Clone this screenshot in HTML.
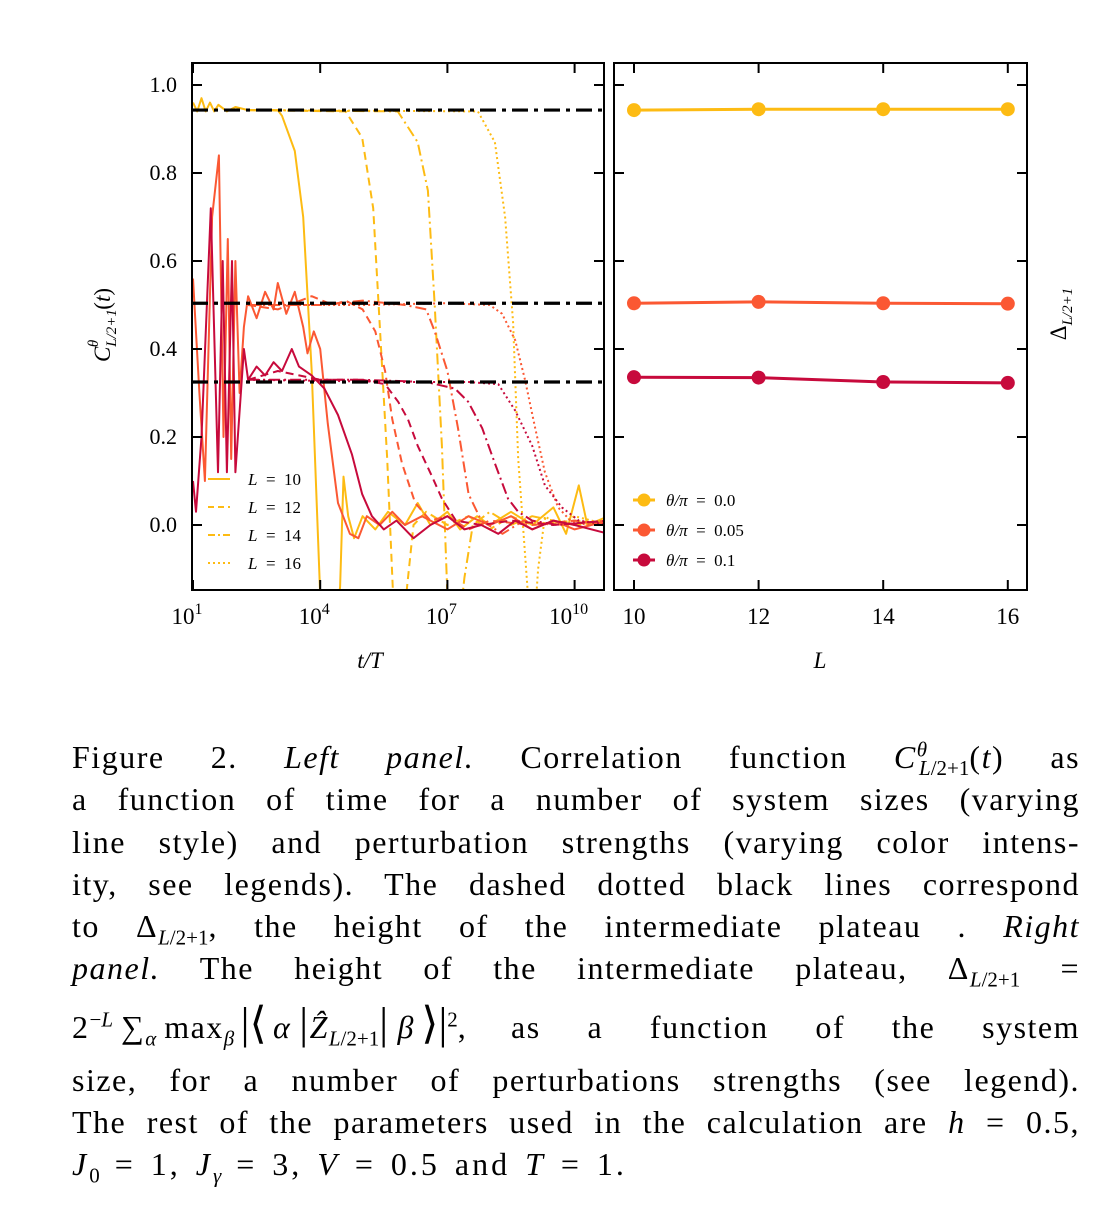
<!DOCTYPE html>
<html><head><meta charset="utf-8">
<style>
html,body{margin:0;padding:0;background:#fff;}
body{width:1102px;height:1217px;position:relative;overflow:hidden;font-family:"Liberation Serif",serif;}
.cap{position:absolute;left:72px;width:1008px;font-size:32px;line-height:34px;letter-spacing:1.5px;white-space:nowrap;color:#000;}
.j{text-align:justify;text-align-last:justify;white-space:normal;}
sub,sup{font-size:21px;line-height:0;letter-spacing:0;}
i{font-style:italic;}
</style></head>
<body>
<svg id="chart" width="1102" height="720" style="position:absolute;left:0;top:0" xmlns="http://www.w3.org/2000/svg" font-family="Liberation Serif, serif">
<defs>
<clipPath id="cl"><rect x="192" y="63" width="412" height="527"/></clipPath>
<clipPath id="cr"><rect x="614" y="63" width="413" height="527"/></clipPath>
</defs>
<g id="left"></g>
<g id="right"></g>
</svg>

<div class="cap j" style="top:740px">Figure 2. <i>Left panel.</i> Correlation function <i>C</i><sup><i>θ</i></sup><sub style="margin-left:-8px"><i>L</i>/2+1</sub>(<i>t</i>) as</div>
<div class="cap j" style="top:782px">a function of time for a number of system sizes (varying</div>
<div class="cap j" style="top:825px">line style) and perturbation strengths (varying color intens-</div>
<div class="cap j" style="top:867px">ity, see legends). The dashed dotted black lines correspond</div>
<div class="cap j" style="top:909px">to Δ<sub><i>L</i>/2+1</sub>, the height of the intermediate plateau . <i>Right</i></div>
<div class="cap j" style="top:951px"><i>panel.</i> The height of the intermediate plateau, Δ<sub><i>L</i>/2+1</sub> =</div>
<div class="cap j" style="top:1007px">2<sup>−<i>L</i></sup>&#8239;∑<sub><i>α</i></sub>&#8239;max<sub><i>β</i></sub>&#8239;<span style="font-size:44px">|⟨</span>&#8239;<i>α</i>&#8239;<span style="font-size:44px">|</span><i>Ẑ</i><sub><i>L</i>/2+1</sub><span style="font-size:44px">|</span>&#8239;<i>β</i>&#8239;<span style="font-size:44px">⟩|</span><sup>2</sup>, as a function of the system</div>
<div class="cap j" style="top:1063px">size, for a number of perturbations strengths (see legend).</div>
<div class="cap j" style="top:1105px">The rest of the parameters used in the calculation are <i>h</i> = 0.5,</div>
<div class="cap" style="top:1147px;letter-spacing:3px;word-spacing:4px"><i>J</i><sub>0</sub> = 1, <i>J</i><sub><i>γ</i></sub> = 3, <i>V</i> = 0.5 and <i>T</i> = 1.</div>

<script>
// ---------- data ----------
const plateaus = [0.943, 0.504, 0.325];
const xTickExps = [1, 4, 7, 10];
const yTicks = [0.0, 0.2, 0.4, 0.6, 0.8, 1.0];
const sizes = [10, 12, 14, 16];
const thetaLabels = ["0.0", "0.05", "0.1"];
const deltaYellow = [0.943, 0.945, 0.945, 0.945];
const deltaOrange = [0.504, 0.507, 0.504, 0.503];
const deltaCrimson = [0.336, 0.335, 0.325, 0.323];
// curves: [log10(t/T), C]
const y10 = [[1,0.96],[1.1,0.94],[1.2,0.97],[1.3,0.94],[1.4,0.96],[1.5,0.94],[1.6,0.955],[1.8,0.94],[2.0,0.95],[2.3,0.943],[3.0,0.943],[3.1,0.93],[3.4,0.85],[3.6,0.70],[3.8,0.35],[4.0,-0.16],[4.3,-0.3],[4.47,-0.14],[4.55,0.11],[4.66,0.02],[4.8,-0.03],[5.0,0.02],[5.3,-0.01],[5.6,0.03],[6.0,0.0],[6.3,0.05],[6.6,0.0],[7.0,0.03],[7.3,-0.01],[7.7,0.02],[8.0,0.0],[8.5,0.03],[9.0,0.0],[9.5,0.04],[9.8,-0.02],[10.1,0.09],[10.3,0.0],[10.8,0.02]];
const y12 = [[2.3,0.943],[4.6,0.94],[4.99,0.88],[5.25,0.72],[5.4,0.46],[5.58,0.15],[5.72,-0.16],[5.9,-0.3],[6.05,-0.14],[6.2,0.0],[6.5,0.03],[7.0,0.0],[7.5,0.02],[8.0,-0.01],[8.5,0.02],[9.0,0.0],[10.0,0.01],[10.8,0.0]];
const y14 = [[2.3,0.943],[5.83,0.94],[6.3,0.87],[6.54,0.76],[6.7,0.50],[6.87,0.18],[7.0,-0.16],[7.2,-0.3],[7.4,-0.12],[7.6,0.0],[8.0,0.03],[8.5,0.0],[9.0,0.02],[10.0,0.0],[10.8,0.01]];
const y16 = [[2.3,0.943],[7.72,0.94],[8.12,0.87],[8.36,0.70],[8.55,0.46],[8.67,0.15],[8.9,-0.16],[9.0,-0.3],[9.14,-0.1],[9.3,0.02],[9.6,0.0],[10.0,0.02],[10.8,0.0]];
const o10 = [[1,0.56],[1.15,0.3],[1.28,0.1],[1.45,0.7],[1.61,0.84],[1.72,0.2],[1.82,0.65],[1.9,0.15],[2.0,0.6],[2.1,0.3],[2.2,0.45],[2.3,0.52],[2.5,0.47],[2.7,0.53],[2.9,0.49],[3.0,0.55],[3.2,0.48],[3.4,0.53],[3.6,0.45],[3.7,0.39],[3.85,0.44],[4.0,0.40],[4.18,0.23],[4.42,0.05],[4.7,-0.02],[4.9,-0.03],[5.1,0.02],[5.4,0.0],[5.7,0.03],[6.0,0.0],[6.4,0.02],[7.0,-0.01],[7.5,0.02],[8.0,0.0],[8.5,0.02],[9.0,-0.01],[9.5,0.01],[10.0,-0.01],[10.8,0.01]];
const o12 = [[2.3,0.5],[3.0,0.49],[3.8,0.52],[4.3,0.5],[4.6,0.51],[5.0,0.49],[5.3,0.44],[5.53,0.35],[5.7,0.24],[5.93,0.14],[6.24,0.05],[6.6,0.01],[7.0,0.02],[7.5,-0.01],[8.0,0.01],[9.0,0.0],[10.0,0.01],[10.8,0.0]];
const o14 = [[2.3,0.5],[4.0,0.5],[5.0,0.51],[6.0,0.5],[6.5,0.49],[6.7,0.44],[7.0,0.35],[7.25,0.22],[7.5,0.07],[7.8,0.01],[8.3,-0.02],[8.8,0.01],[9.5,0.0],[10.8,0.01]];
const o16 = [[2.3,0.5],[5.0,0.5],[7.0,0.504],[8.0,0.5],[8.29,0.48],[8.6,0.42],[8.83,0.33],[9.07,0.22],[9.3,0.12],[9.61,0.04],[9.9,0.01],[10.3,0.0],[10.8,0.01]];
const c10 = [[1,0.1],[1.07,0.03],[1.2,0.2],[1.42,0.72],[1.59,0.12],[1.7,0.6],[1.8,0.12],[1.92,0.6],[2.0,0.12],[2.2,0.4],[2.3,0.33],[2.5,0.36],[2.7,0.34],[2.9,0.37],[3.1,0.35],[3.33,0.40],[3.5,0.36],[3.8,0.34],[4.1,0.31],[4.42,0.25],[4.75,0.16],[4.99,0.07],[5.22,0.02],[5.5,-0.01],[5.8,0.01],[6.2,-0.03],[6.6,0.0],[7.0,0.02],[7.4,-0.01],[7.8,0.0],[8.2,-0.02],[8.6,0.01],[9.0,-0.01],[9.5,0.01],[10.0,0.0],[10.8,-0.02]];
const c12 = [[2.3,0.33],[3.0,0.35],[4.0,0.33],[5.0,0.33],[5.53,0.32],[5.84,0.28],[6.07,0.24],[6.3,0.18],[6.64,0.11],[6.87,0.06],[7.2,0.01],[7.8,0.0],[8.5,0.01],[9.5,0.0],[10.8,0.01]];
const c14 = [[2.3,0.33],[5.0,0.33],[6.5,0.325],[7.18,0.31],[7.49,0.28],[7.82,0.22],[8.12,0.14],[8.43,0.06],[8.67,0.03],[9.0,0.01],[9.6,0.0],[10.8,0.01]];
const c16 = [[2.3,0.33],[6.0,0.325],[7.5,0.325],[8.2,0.32],[8.6,0.26],[9.0,0.18],[9.3,0.09],[9.7,0.04],[10.1,0.01],[10.8,0.0]];

// ---------- setup ----------
const NS = "http://www.w3.org/2000/svg";
const COL = ["#fdbb13", "#fb5833", "#c70a3c"];
const DASH = ["", "8,5", "11,4,2,4", "2,3"];
const L = {x0:193, pxPerDec:42.4, y0:525, pxPerUnit:440, left:192, right:604, top:63, bottom:590};
const R = {left:614, right:1027, x10:634, pxPerL:62.3};
const lx = v => L.x0 + (v - 1) * L.pxPerDec;
const ly = v => L.y0 - v * L.pxPerUnit;
const rx = v => R.x10 + (v - 10) * R.pxPerL;
function mk(tag, attrs, parent){ const e=document.createElementNS(NS,tag); for(const k in attrs) e.setAttribute(k,attrs[k]); parent.appendChild(e); return e; }
const gl = document.getElementById('left'), gr = document.getElementById('right');

// ---------- left panel ----------
const curveG = mk('g', {'clip-path':'url(#cl)'}, gl);
const series = [[y10,y12,y14,y16],[o10,o12,o14,o16],[c10,c12,c14,c16]];
series.forEach((grp, ci) => grp.forEach((pts, li) => {
  const d = pts.map((p,i)=>(i?'L':'M')+lx(p[0]).toFixed(1)+' '+ly(p[1]).toFixed(1)).join(' ');
  const p = mk('path', {d, fill:'none', stroke:COL[ci], 'stroke-width':2, 'stroke-linejoin':'round'}, curveG);
  if (DASH[li]) p.setAttribute('stroke-dasharray', DASH[li]);
  
  
}));
plateaus.forEach(v => {
  const p = mk('line', {x1:L.left, x2:L.right, y1:ly(v), y2:ly(v), stroke:'#000', 'stroke-width':3.2, 'stroke-dasharray':'16,6,4,6'}, curveG);
  
  
});
mk('rect', {x:L.left, y:L.top, width:L.right-L.left, height:L.bottom-L.top, fill:'none', stroke:'#000', 'stroke-width':2}, gl);
xTickExps.forEach(e => {
  const x = lx(e);
  mk('line', {x1:x, x2:x, y1:L.bottom, y2:L.bottom-10, stroke:'#000','stroke-width':2}, gl);
  mk('line', {x1:x, x2:x, y1:L.top, y2:L.top+10, stroke:'#000','stroke-width':2}, gl);
  const t = mk('text', {x:x-6, y:624, 'font-size':23, 'text-anchor':'middle'}, gl);
  t.innerHTML = '10<tspan dy="-10" font-size="16">' + e + '</tspan>';
  
  
});
yTicks.forEach(v => {
  const y = ly(v);
  mk('line', {x1:L.left, x2:L.left+10, y1:y, y2:y, stroke:'#000','stroke-width':2}, gl);
  mk('line', {x1:L.right, x2:L.right-10, y1:y, y2:y, stroke:'#000','stroke-width':2}, gl);
  mk('line', {x1:R.left, x2:R.left+10, y1:y, y2:y, stroke:'#000','stroke-width':2}, gr);
  mk('line', {x1:R.right, x2:R.right-10, y1:y, y2:y, stroke:'#000','stroke-width':2}, gr);
  const t = mk('text', {x:177, y:y+7, 'font-size':22, 'text-anchor':'end'}, gl);
  t.textContent = v.toFixed(1);
  
  
});
// legend left
sizes.forEach((s, i) => {
  const y = 479 + i * 28;
  const ln = mk('line', {x1:208, x2:230, y1:y, y2:y, stroke:COL[0], 'stroke-width':2}, gl);
  if (DASH[i]) ln.setAttribute('stroke-dasharray', DASH[i] === '2,3' ? '2,3' : DASH[i] === '8,5' ? '6,4' : '7,3,2,3');
  const t = mk('text', {x:248, y:y+6, 'font-size':17}, gl);
  t.innerHTML = '<tspan font-style="italic">L</tspan>  =  ' + s;
  t.style.whiteSpace = 'pre';
  
  
});
let t = mk('text', {x:370, y:668, 'font-size':23, 'text-anchor':'middle', 'font-style':'italic'}, gl);
t.textContent = 't/T';


t = mk('text', {x:0, y:0, 'font-size':23, 'text-anchor':'middle', transform:'translate(110,325) rotate(-90)'}, gl);
t.innerHTML = '<tspan font-style="italic">C</tspan><tspan font-size="15" dy="6" font-style="italic">L/2+1</tspan><tspan font-size="15" dx="-38" dy="-18" font-style="italic">θ</tspan><tspan dx="30" dy="12">(</tspan><tspan font-style="italic">t</tspan>)';



// ---------- right panel ----------
mk('rect', {x:R.left, y:L.top, width:R.right-R.left, height:L.bottom-L.top, fill:'none', stroke:'#000','stroke-width':2}, gr);
sizes.forEach(s => {
  const x = rx(s);
  mk('line', {x1:x, x2:x, y1:L.bottom, y2:L.bottom-10, stroke:'#000','stroke-width':2}, gr);
  mk('line', {x1:x, x2:x, y1:L.top, y2:L.top+10, stroke:'#000','stroke-width':2}, gr);
  const tt = mk('text', {x:x, y:624, 'font-size':23, 'text-anchor':'middle'}, gr);
  tt.textContent = s;
  
  
});
const rg = mk('g', {'clip-path':'url(#cr)'}, gr);
[deltaYellow, deltaOrange, deltaCrimson].forEach((arr, ci) => {
  const d = arr.map((v,i)=>(i?'L':'M')+rx(sizes[i])+' '+ly(v).toFixed(1)).join(' ');
  const p = mk('path', {d, fill:'none', stroke:COL[ci], 'stroke-width':3}, rg);
  
  
  arr.forEach((v,i) => {
    const c = mk('circle', {cx:rx(sizes[i]), cy:ly(v), r:7, fill:COL[ci]}, rg);
    
    
  });
});
thetaLabels.forEach((lab, i) => {
  const y = 500 + i * 30;
  mk('line', {x1:633, x2:655, y1:y, y2:y, stroke:COL[i], 'stroke-width':3}, gr);
  mk('circle', {cx:644, cy:y, r:6.5, fill:COL[i]}, gr);
  const tt = mk('text', {x:666, y:y+6, 'font-size':17}, gr);
  tt.innerHTML = '<tspan font-style="italic">θ/π</tspan>  =  ' + lab;
  tt.style.whiteSpace = 'pre';
  
  
});
t = mk('text', {x:820, y:668, 'font-size':23, 'text-anchor':'middle', 'font-style':'italic'}, gr);
t.textContent = 'L';


t = mk('text', {x:0, y:0, 'font-size':23, 'text-anchor':'middle', transform:'translate(1066,314) rotate(-90)'}, gr);
t.innerHTML = 'Δ<tspan font-size="15" dy="6" font-style="italic">L/2+1</tspan>';


</script>
</body></html>
